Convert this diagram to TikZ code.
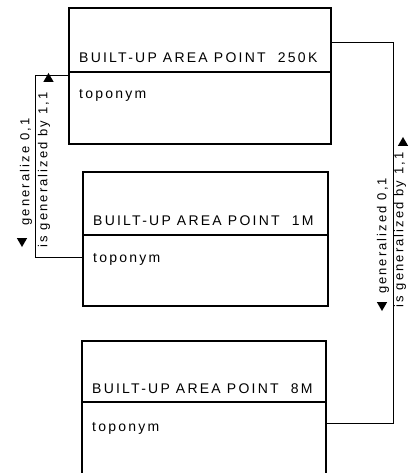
\documentclass[tikz,border=0pt]{standalone}
\usepackage{fontspec}
\newfontfamily\diagfont[LetterSpace=16]{Liberation Sans}
\usetikzlibrary{shapes.geometric}

\tikzset{
  entity/.style={draw, line width=2pt, inner sep=0pt},
  lbl/.style={inner sep=0pt, anchor=base west},
  vlbl/.style={inner sep=0pt, rotate=90, font=\diagfont\fontsize{13}{15}\selectfont},
  arrowmark/.style={regular polygon, regular polygon sides=3, fill, draw=none,
    inner sep=0pt, minimum size=12pt},
}

\begin{document}
\begin{tikzpicture}[x=1pt, y=-1pt, font=\diagfont\fontsize{14}{16}\selectfont]
\useasboundingbox (0,0) rectangle (409,473);
\clip (0,0) rectangle (409,473);
% feature classes:
\node[entity, minimum width=262pt, minimum height=136pt] (b250) at (200,76) {};
\draw[line width=2pt] (b250.west |- 0,72) -- (b250.east |- 0,72);
\node[lbl] (n250) at (79,63) {BUILT-UP AREA POINT~~250K};
\node[lbl] (t250) at (79,99) {toponym};

\node[entity, minimum width=245pt, minimum height=134pt] (b1m) at (205.5,239) {};
\draw[line width=2pt] (b1m.west |- 0,235) -- (b1m.east |- 0,235);
\node[lbl] (n1m) at (93,225) {BUILT-UP AREA POINT~~1M};
\node[lbl] (t1m) at (93,262) {toponym};

\node[entity, minimum width=244pt, minimum height=136pt] (b8m) at (204,409) {};
\draw[line width=2pt] (b8m.west |- 0,402) -- (b8m.east |- 0,402);
\node[lbl] (n8m) at (92,393) {BUILT-UP AREA POINT~~8M};
\node[lbl] (t8m) at (92,431) {toponym};

% generalization links:
\draw[line width=1pt] (b250.west) -- ++(-33,0) |- ([yshift=-18pt]b1m.west);
\node[vlbl] (isgenL) at (44,170) {is generalized by 1,1};
\node[vlbl] (genL) at (26,172) {generalize 0,1};
\node[arrowmark] (upL) at (48.5,79) {};
\node[arrowmark, shape border rotate=180] (dnL) at (22,241) {};

\draw[line width=1pt] ([yshift=33pt]b250.east) -- ++(61,0) |- ([yshift=-14pt]b8m.east);
\node[vlbl] (isgenR) at (400,230) {is generalized by 1,1};
\node[vlbl] (genR) at (383,236) {generalized 0,1};
\node[arrowmark] (upR) at (403,143) {};
\node[arrowmark, shape border rotate=180] (dnR) at (382,305) {};
\end{tikzpicture}
\end{document}
